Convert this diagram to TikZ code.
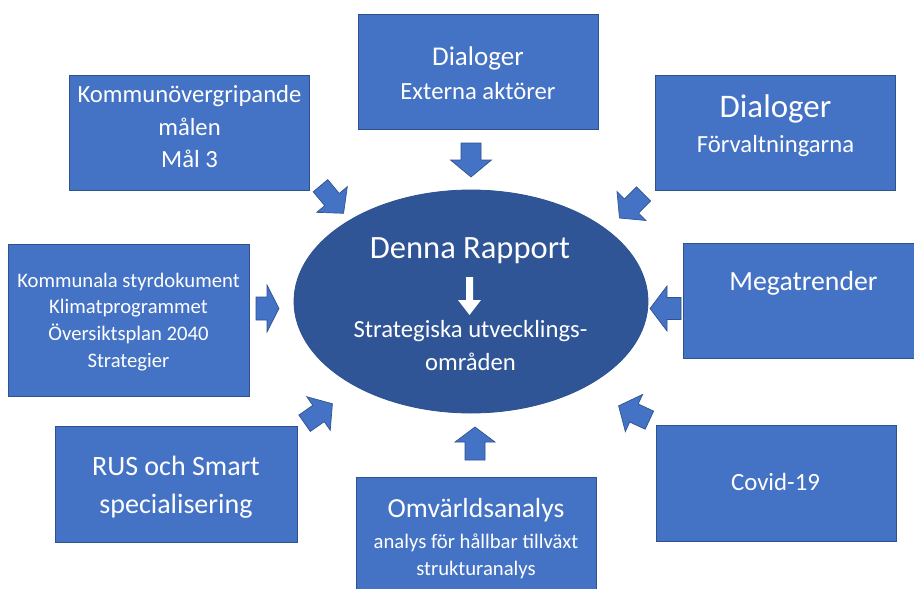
\documentclass[tikz,border=0pt]{standalone}
\usepackage{fontspec}
\setmainfont{Carlito}
\usetikzlibrary{shapes.geometric}
\definecolor{boxfill}{HTML}{4472C4}
\definecolor{boxedge}{HTML}{2F528F}
\definecolor{corefill}{HTML}{2F5597}
\newcommand\barrow[8]{\path[#1, shift={(#2,#3)}, rotate=#4] (-#5/2,-#7/2) -- (#5/2-#6,-#7/2) -- (#5/2-#6,-#8/2) -- (#5/2,0) -- (#5/2-#6,#8/2) -- (#5/2-#6,#7/2) -- (-#5/2,#7/2) -- cycle;}
\newcommand\fs[1]{\fontsize{#1}{#1}\selectfont}
\tikzset{
  box/.style={rectangle, draw=boxedge, fill=boxfill, line width=0.75pt, inner sep=0pt, minimum width=180pt, minimum height=86.25pt},
  core/.style={ellipse, draw=boxedge, fill=corefill, line width=0.6pt, inner sep=0pt, minimum width=265.5pt, minimum height=167.25pt},
  txt/.style={text=white, inner sep=0pt, anchor=base},
  arr/.style={fill=boxfill, draw=boxedge, line width=0.5pt, line join=miter},
  warr/.style={fill=white}
}
\begin{document}
\begin{tikzpicture}[x=0.75pt, y=-0.75pt]
\useasboundingbox (0,0) rectangle (914,589);
\fill[white] (0,0) rectangle (914,589);
\clip (0,0) rectangle (914,589);

% boxes
\node[box] (kom) at (189,132.5) {};
\node[box] (ext) at (478,71.5) {};
\node[box] (forv) at (775.5,132.5) {};
\node[box, minimum width=180.75pt, minimum height=114pt] (styr) at (128.5,320) {};
\node[box] (mega) at (803.5,300.5) {};
\node[box, minimum width=181.5pt, minimum height=87pt] (rus) at (176,484) {};
\node[box] (omv) at (476.5,535) {};
\node[box, minimum height=87pt] (covid) at (776,483) {};

% central ellipse
\node[core] (rap) at (471,301.5) {};

% texts
\node[txt, font=\fs{18.5}] (kom1) at (189.5,102) {Kommunövergripande};
\node[txt, font=\fs{18.5}] (kom2) at (189.5,135) {målen};
\node[txt, font=\fs{18.5}] (kom3) at (189.5,167) {Mål 3};

\node[txt, font=\fs{20.3}] (ext1) at (478,65) {Dialoger};
\node[txt, font=\fs{18.5}] (ext2) at (478,99) {Externa aktörer};

\node[txt, font=\fs{24.7}] (forv1) at (775.5,117) {Dialoger};
\node[txt, font=\fs{18.5}] (forv2) at (775.5,152) {Förvaltningarna};

\node[txt, font=\fs{15.5}] (styr1) at (128.5,287) {Kommunala styrdokument};
\node[txt, font=\fs{15.5}] (styr2) at (128.5,313) {Klimatprogrammet};
\node[txt, font=\fs{15.5}] (styr3) at (128.5,340) {Översiktsplan 2040};
\node[txt, font=\fs{15.5}] (styr4) at (128.5,367) {Strategier};

\node[txt, font=\fs{20.8}] (mega1) at (803.5,290) {Megatrender};

\node[txt, font=\fs{21}] (rus1) at (176,475) {RUS och Smart};
\node[txt, font=\fs{21}] (rus2) at (176,513) {specialisering};

\node[txt, font=\fs{18.6}] (cov1) at (775.5,490) {Covid-19};

\node[txt, font=\fs{20.7}] (omv1) at (476,517) {Omvärldsanalys};
\node[txt, font=\fs{15.5}] (omv2) at (476,548) {analys för hållbar tillväxt};
\node[txt, font=\fs{15.5}] (omv3) at (476,575) {strukturanalys};

\node[txt, font=\fs{24.4}] (rap1) at (470,258) {Denna Rapport};
\node[txt, font=\fs{18.5}] (rap2) at (470.5,337) {Strategiska utvecklings-};
\node[txt, font=\fs{18.5}] (rap3) at (470.5,370) {områden};

% block arrows
\barrow{arr}{471}{160}{-90}{34}{17}{20}{41}
\barrow{arr}{267.5}{308.5}{0}{23}{12}{23}{47}
\barrow{arr}{665.5}{308.5}{180}{31}{17}{22}{45}
\barrow{arr}{475}{443.5}{90}{33}{15}{20}{40}
\barrow{arr}{332}{199.5}{-50}{36}{18}{19}{40}
\barrow{arr}{631.5}{206}{-135}{34}{17}{20}{41}
\barrow{arr}{318.5}{413.5}{35}{34}{17}{20}{41}
\barrow{arr}{634}{413}{155}{34}{17}{20}{41}
\barrow{warr}{469.5}{296}{-90}{38}{15}{7}{23}
\end{tikzpicture}
\end{document}
